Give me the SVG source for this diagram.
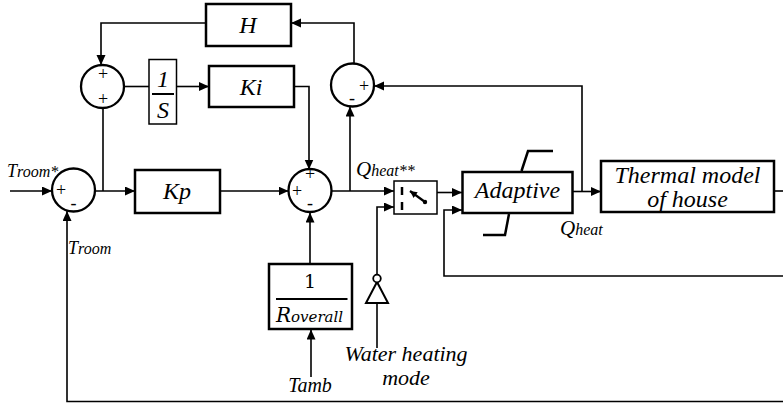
<svg xmlns="http://www.w3.org/2000/svg" width="783" height="406" viewBox="0 0 783 406">
<defs>
<marker id="ah" markerUnits="userSpaceOnUse" markerWidth="11" markerHeight="10" refX="10" refY="4.5" orient="auto"><path d="M0,0 L10,4.5 L0,9 z" fill="#000"/></marker>
<marker id="ahs" markerUnits="userSpaceOnUse" markerWidth="8" markerHeight="8" refX="7" refY="3.5" orient="auto"><path d="M0,0 L7,3.5 L0,7 z" fill="#000"/></marker>
<style>
.blk{fill:#fff;stroke:#000;stroke-width:2.5}
.thin{fill:#fff;stroke:#000;stroke-width:1.5}
.sum{fill:#fff;stroke:#000;stroke-width:2.3}
.ln{fill:none;stroke:#000;stroke-width:1.6}
.ar{fill:none;stroke:#000;stroke-width:1.6;marker-end:url(#ah)}
.lbl{font-family:"Liberation Serif",serif;font-style:italic;font-size:24px;text-anchor:middle;fill:#000}
.sg{font-family:"Liberation Serif",serif;font-size:18px;text-anchor:middle;fill:#000}
.it{font-family:"Liberation Serif",serif;font-style:italic;fill:#000}
.sat{fill:none;stroke:#000;stroke-width:2.5}
</style>
</defs>
<g id="connectors">
<path class="ar" d="M10,191 H52"/>
<path class="ar" d="M95,191 H135"/>
<path class="ln" d="M103,191 V108"/>
<path class="ar" d="M206,23 H101 V65"/>
<path class="ln" d="M124,86.5 H149"/>
<path class="ar" d="M177,86.5 H209"/>
<path class="ar" d="M294,86.5 H309 V169.5"/>
<path class="ar" d="M220,191 H288.5"/>
<path class="ar" d="M310,264 V212.5"/>
<path class="ar" d="M311,377 V329.5"/>
<path class="ar" d="M331.5,191 H394"/>
<path class="ar" d="M350,191 V106.5"/>
<path class="ar" d="M354,63.5 V23 H291"/>
<path class="ln" d="M377,348 V303"/>
<path class="ar" d="M377,274.5 V207 H394"/>
<path class="ar" d="M437,192.5 H462"/>
<path class="ar" d="M783,276 H444 V210 H462"/>
<path class="ar" d="M573,191.5 H601"/>
<path class="ar" d="M582,191.5 V86 H374"/>
<path class="ln" d="M774,191 H783"/>
<path class="ar" d="M783,401.5 H67 V211"/>
</g>
<g id="sum1">
<circle class="sum" cx="73.5" cy="190" r="21.5"/>
<text class="sg" x="61" y="196">+</text>
<text class="sg" x="73.5" y="209">-</text>
</g>
<g id="sum-int">
<circle class="sum" cx="102.5" cy="86.5" r="21.5"/>
<text class="sg" x="103" y="80">+</text>
<text class="sg" x="103" y="105">+</text>
</g>
<g id="sum2">
<circle class="sum" cx="310" cy="190.5" r="21.5"/>
<text class="sg" x="297" y="197">+</text>
<text class="sg" x="310" y="180">+</text>
<text class="sg" x="310" y="209">-</text>
</g>
<g id="sum3">
<circle class="sum" cx="352.5" cy="85" r="21.5"/>
<text class="sg" x="364" y="92">+</text>
<text class="sg" x="352" y="104">-</text>
</g>
<g id="H">
<rect class="blk" x="206" y="4" width="85" height="42"/>
<text class="lbl" x="248" y="33">H</text>
</g>
<g id="integrator">
<rect class="thin" x="149" y="59.5" width="27.5" height="64.5"/>
<text class="lbl" x="163" y="87" font-size="22">1</text>
<line x1="152" y1="94" x2="174" y2="94" stroke="#000" stroke-width="2"/>
<text class="lbl" x="163" y="118" font-size="22">S</text>
</g>
<g id="Ki">
<rect class="blk" x="209" y="66" width="85" height="41"/>
<text class="lbl" x="251" y="95">Ki</text>
</g>
<g id="Kp">
<rect class="blk" x="135" y="170" width="85" height="43"/>
<text class="lbl" x="177" y="199">Kp</text>
</g>
<g id="Roverall">
<rect class="blk" x="269" y="264" width="83" height="65"/>
<text x="310" y="288" font-family="DejaVu Serif, serif" font-size="19" text-anchor="middle">1</text>
<line x1="276" y1="299" x2="347.5" y2="299" stroke="#000" stroke-width="2"/>
<text x="276" y="322" font-family="DejaVu Serif, serif" font-style="italic"><tspan font-size="20">R</tspan><tspan font-size="15">overall</tspan></text>
</g>
<g id="Tamb">
<text class="it" x="310" y="392" font-size="20" text-anchor="middle">Tamb</text>
</g>
<g id="water">
<path d="M377,282 L366,303 L388,303 Z" fill="#fff" stroke="#000" stroke-width="2"/>
<circle cx="377" cy="278.5" r="3.8" fill="#fff" stroke="#000" stroke-width="1.8"/>
<text class="it" x="406" y="361" font-size="22" text-anchor="middle">Water heating</text>
<text class="it" x="406" y="385" font-size="22" text-anchor="middle">mode</text>
</g>
<g id="switch">
<rect class="thin" x="394" y="181" width="43" height="33"/>
<line x1="402" y1="187" x2="402" y2="195" stroke="#000" stroke-width="2.5"/>
<line x1="402" y1="202" x2="402" y2="210" stroke="#000" stroke-width="2.5"/>
<line x1="425" y1="202" x2="410" y2="191" stroke="#000" stroke-width="2.2" marker-end="url(#ahs)"/>
<circle cx="425" cy="202" r="2.2" fill="#000"/>
</g>
<g id="adaptive">
<rect class="blk" x="462.5" y="172" width="110" height="41"/>
<text class="lbl" x="517.5" y="198">Adaptive</text>
<path class="sat" d="M521.5,171 L528,151 H553"/>
<path class="sat" d="M509,214 L505,235 H483"/>
</g>
<g id="thermal">
<rect class="blk" x="601" y="161" width="173" height="51"/>
<text class="lbl" x="687.5" y="183" font-size="22">Thermal model</text>
<text class="lbl" x="687.5" y="207" font-size="22">of house</text>
</g>
<g id="labels">
<text class="it" x="7" y="177"><tspan font-size="18">T</tspan><tspan font-size="16">room*</tspan></text>
<text class="it" x="68" y="254"><tspan font-size="18">T</tspan><tspan font-size="16">room</tspan></text>
<text class="it" x="356" y="176"><tspan font-size="21">Q</tspan><tspan font-size="16">heat**</tspan></text>
<text class="it" x="560" y="235"><tspan font-size="21">Q</tspan><tspan font-size="16">heat</tspan></text>
</g>
</svg>
